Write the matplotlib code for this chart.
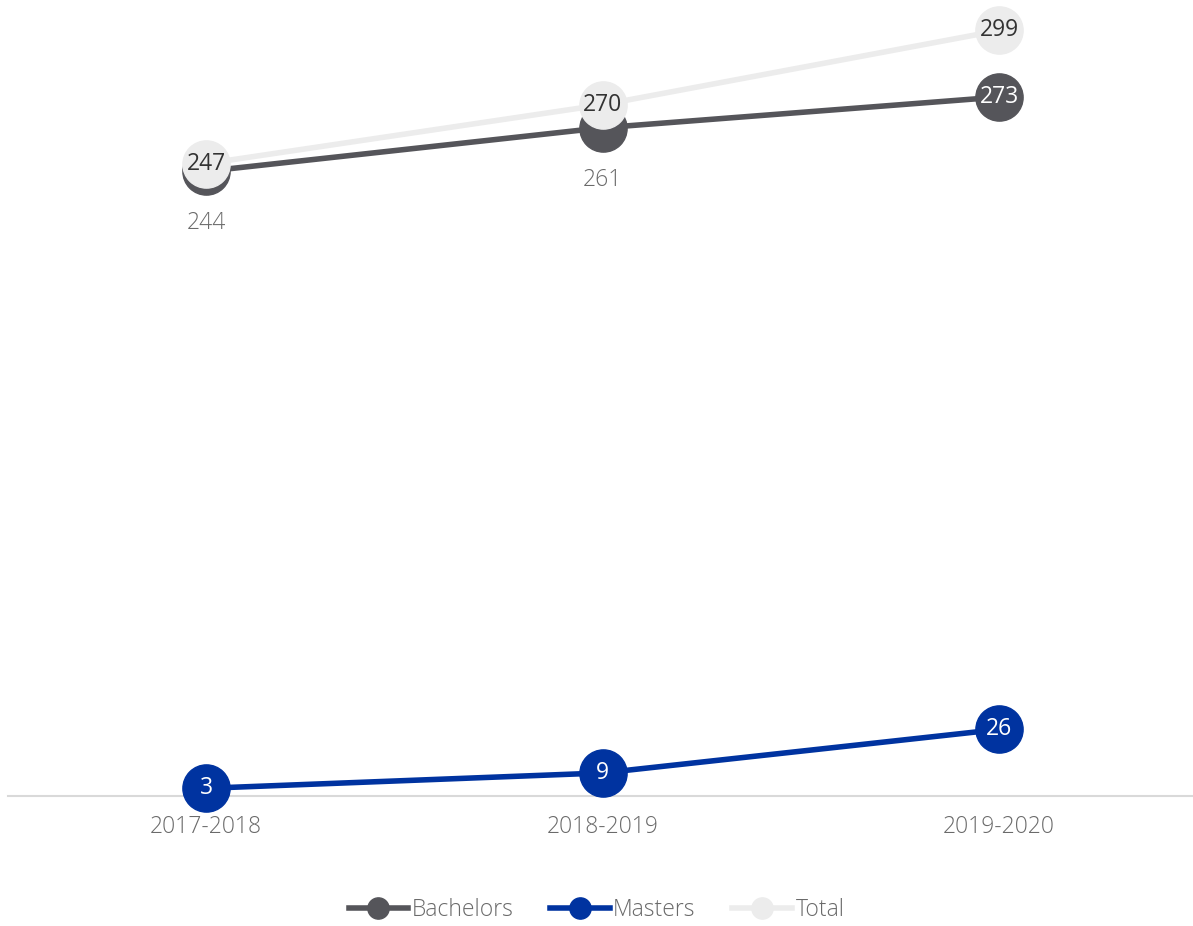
import matplotlib
matplotlib.use("Agg")
import matplotlib.pyplot as plt

years = ["2017-2018", "2018-2019", "2019-2020"]
bachelors = [244, 261, 273]
masters = [3, 9, 26]
total = [247, 270, 299]

BACH = "#55555a"
MAST = "#0033a0"
TOT = "#ececec"
GREY = "#6a6a6a"

plt.rcParams["font.family"] = ["Open Sans", "DejaVu Sans"]

fig = plt.figure(figsize=(11.93, 9.26), dpi=100)
ax = fig.add_axes([0.0067, 0.1404, 0.9933, 0.8488])
x = list(range(len(years)))

ax.plot(x, bachelors, color=BACH, lw=4, marker="o", ms=34, zorder=2, label="Bachelors")
ax.plot(x, masters, color=MAST, lw=4, marker="o", ms=34, zorder=3, label="Masters")
ax.plot(x, total, color=TOT, lw=4, marker="o", ms=34, zorder=4, label="Total")

FS = 16.5
for i, v in enumerate(bachelors):
    if i < 2:
        ax.annotate(str(v), (i, v), xytext=(0, -52), textcoords="offset pixels",
                    ha="center", va="center", fontsize=FS, color=GREY, weight="light")
    else:
        ax.text(i, v, str(v), ha="center", va="center", fontsize=FS,
                color="white", zorder=5)
for i, v in enumerate(masters):
    ax.text(i, v, str(v), ha="center", va="center", fontsize=FS,
            color="white", zorder=5)
for i, v in enumerate(total):
    ax.text(i, v, str(v), ha="center", va="center", fontsize=FS,
            color="#333333", zorder=6)

ax.set_xlim(-0.4994, 2.489)
ax.set_ylim(0, 307)
ax.set_xticks(x)
ax.set_xticklabels(years, fontsize=FS, color=GREY, weight="light")
ax.tick_params(axis="x", length=0, pad=14)
ax.set_yticks([])
for s in ["top", "right", "left"]:
    ax.spines[s].set_visible(False)
ax.spines["bottom"].set_color("#d9d9d9")
ax.spines["bottom"].set_linewidth(1.5)
for ln in ax.lines:
    ln.set_clip_on(False)

h, l = ax.get_legend_handles_labels()
leg = fig.legend(h, l, loc="center", ncol=3, frameon=False, fontsize=FS,
                 markerscale=0.45, handlelength=2.6, columnspacing=1.6,
                 handletextpad=0.15)
leg.set_bbox_to_anchor((0.5, 1 - 910 / 926), transform=fig.transFigure)
for t in leg.get_texts():
    t.set_color(GREY)
    t.set_fontweight("light")

fig.savefig("out.png", dpi=100)
